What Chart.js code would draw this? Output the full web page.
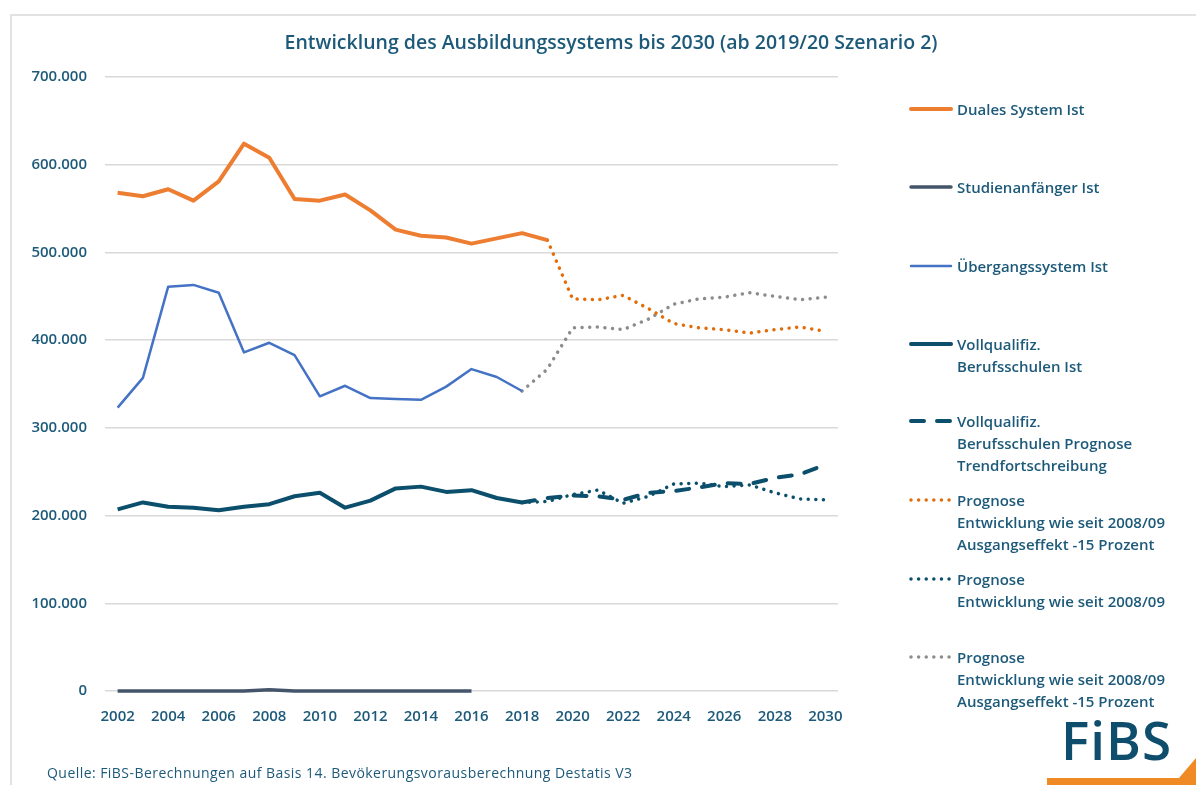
<!DOCTYPE html>
<html>
<head>
<meta charset="utf-8">
<script src="https://cdn.jsdelivr.net/npm/chart.js@4.4.1/dist/chart.umd.min.js"></script>
<style>
  html, body { margin: 0; padding: 0; background: #fff; }
  #wrap { position: relative; width: 1196px; height: 785px; overflow: hidden; font-family: 'Open Sans', sans-serif; color: #1d5a7a; }
  #frame { position: absolute; left: 10px; top: 14px; width: 1300px; height: 900px; border-left: 2px solid #e2e2e2; border-top: 2px solid #e2e2e2; }
  #chart { position: absolute; left: 0; top: 0; }
  #title { position: absolute; left: 611px; transform: translateX(-50%); top: 29px; white-space: nowrap; font-size: 19.5px; font-weight: 600; line-height: 26px; }
  #legend .item { position: absolute; left: 909px; }
  #legend svg { position: absolute; left: 0; top: 5px; }
  #legend .txt { position: absolute; left: 48px; top: 0; white-space: nowrap; font-size: 15px; font-weight: 600; line-height: 22px; }
  #source { position: absolute; left: 47px; top: 763px; font-size: 14px; letter-spacing: 0.45px; white-space: nowrap; }
  #logo { position: absolute; left: 1061px; top: 710px; font-size: 53px; font-weight: 600; line-height: 60px; color: #0e4d6c; letter-spacing: 1px; }
  #swoosh { position: absolute; left: 0; top: 0; width: 1196px; height: 785px; background: #f08a24;
            clip-path: polygon(1047px 778px, 1179px 778px, 1196px 758px, 1196px 785px, 1047px 785px); }
</style>
</head>
<body>
<div id="wrap">
  <div id="frame"></div>
  <canvas id="chart" width="1196" height="785"></canvas>
  <div id="title">Entwicklung des Ausbildungssystems bis 2030 (ab 2019/20 Szenario 2)</div>
  <div id="legend"></div>
  <div id="source">Quelle: FiBS-Berechnungen auf Basis 14. Bevökerungsvorausberechnung Destatis V3</div>
  <div id="logo">FiBS</div>
  <div id="swoosh"></div>
</div>
<script>
// years on the x axis
const years = ['2002','2003','2004','2005','2006','2007','2008','2009','2010','2011','2012','2013','2014','2015',
  '2016','2017','2018','2019','2020','2021','2022','2023','2024','2025','2026','2027','2028','2029','2030'];

const yTicks = [0, 100000, 200000, 300000, 400000, 500000, 600000, 700000];

// values (null = no value that year)
const dualesIst = [568000, 564000, 572000, 559000, 581000, 624000, 608000, 561000, 559000, 566000, 548000, 526000,
  519000, 517000, 510000, 516000, 522000, 514000, null, null, null, null, null, null, null, null, null, null, null];

const studienIst = [0, 0, 0, 0, 0, 0, 1500, 0, 0, 0, 0, 0, 0, 0, 0,
  null, null, null, null, null, null, null, null, null, null, null, null, null, null];

const uebergangIst = [323000, 357000, 461000, 463000, 454000, 386000, 397000, 383000, 336000, 348000, 334000, 333000,
  332000, 347000, 367000, 358000, 342000, null, null, null, null, null, null, null, null, null, null, null, null];

const vollIst = [207000, 215000, 210000, 209000, 206000, 210000, 213000, 222000, 226000, 209000, 217000, 231000,
  233000, 227000, 229000, 220000, 215000, null, null, null, null, null, null, null, null, null, null, null, null];

const vollTrend = [null, null, null, null, null, null, null, null, null, null, null, null, null, null, null, null,
  215000, 220000, 223000, 222000, 218000, 226000, 228000, 232000, 237000, 236000, 243000, 247000, 258000];

const dualesPrognose = [null, null, null, null, null, null, null, null, null, null, null, null, null, null, null, null, null,
  514000, 447000, 446000, 451000, 436000, 419000, 414000, 412000, 408000, 412000, 415000, 410000];

const vollPrognose = [null, null, null, null, null, null, null, null, null, null, null, null, null, null, null, null,
  215000, 216000, 224000, 229000, 214000, 222000, 236000, 237000, 233000, 235000, 226000, 219000, 218000];

const uebergangPrognose = [null, null, null, null, null, null, null, null, null, null, null, null, null, null, null, null,
  342000, 367000, 414000, 415000, 412000, 424000, 441000, 447000, 449000, 454000, 450000, 446000, 449000];

const textColor = '#1d5a7a';
const DOT = [0.01, 7.6];

const series = [
  { label: ['Duales System Ist'], data: dualesIst, color: '#ed7d31', width: 4, dash: [], top: 98 },
  { label: ['Studienanfänger Ist'], data: studienIst, color: '#44546a', width: 3.5, dash: [], top: 176 },
  { label: ['Übergangssystem Ist'], data: uebergangIst, color: '#4472c4', width: 2.5, dash: [], top: 255 },
  { label: ['Vollqualifiz.', 'Berufsschulen Ist'], data: vollIst, color: '#0b4f6c', width: 4, dash: [], top: 333 },
  { label: ['Vollqualifiz.', 'Berufsschulen Prognose', 'Trendfortschreibung'], data: vollTrend, color: '#0b4f6c', width: 4, dash: [13, 13], top: 410 },
  { label: ['Prognose', 'Entwicklung wie seit 2008/09', 'Ausgangseffekt -15 Prozent'], data: dualesPrognose, color: '#e36c09', width: 3.5, dash: DOT, top: 489 },
  { label: ['Prognose', 'Entwicklung wie seit 2008/09'], data: vollPrognose, color: '#0b4f6c', width: 3.5, dash: DOT, top: 568 },
  { label: ['Prognose', 'Entwicklung wie seit 2008/09', 'Ausgangseffekt -15 Prozent'], data: uebergangPrognose, color: '#8c8c8c', width: 3.5, dash: DOT, top: 646 },
];

function fmt(v) {
  return String(v).replace(/\B(?=(\d{3})+(?!\d))/g, '.');
}

const datasets = series.map((s) => ({
  label: s.label.join(' '),
  data: s.data,
  borderColor: s.color,
  backgroundColor: s.color,
  borderWidth: s.width,
  borderDash: s.dash,
  borderCapStyle: s.dash.length ? 'round' : 'butt',
  borderJoinStyle: 'round',
  pointRadius: 0,
  pointHoverRadius: 0,
  tension: 0,
  spanGaps: false,
  fill: false,
  clip: false,
}));

new Chart(document.getElementById('chart').getContext('2d'), {
  type: 'line',
  data: { labels: years, datasets: datasets },
  options: {
    responsive: false,
    devicePixelRatio: 1,
    animation: false,
    layout: { padding: { top: 77, right: 358, bottom: 54, left: 0 } },
    plugins: { legend: { display: false }, title: { display: false }, tooltip: { enabled: false } },
    scales: {
      x: {
        offset: true,
        grid: { display: false, drawTicks: false },
        border: { display: false },
        afterFit: (scale) => { scale.height = 40; },
        ticks: {
          autoSkip: false,
          maxRotation: 0,
          padding: 17,
          color: textColor,
          font: { family: 'Open Sans', size: 15, weight: '600' },
          callback: (val, i) => (i % 2 === 0 ? years[i] : ''),
        },
      },
      y: {
        min: 0,
        max: 700000,
        afterFit: (scale) => { scale.width = 105; },
        afterBuildTicks: (scale) => { scale.ticks = yTicks.map((v) => ({ value: v })); },
        grid: { color: '#d9d9d9', lineWidth: 1.5, drawTicks: false },
        border: { display: false },
        ticks: {
          padding: 18,
          color: textColor,
          font: { family: 'Open Sans', size: 15, weight: '600' },
          callback: (v) => fmt(v),
        },
      },
    },
  },
});

// legend on the right
const legend = document.getElementById('legend');
series.forEach((s) => {
  const item = document.createElement('div');
  item.className = 'item';
  item.style.top = s.top + 'px';
  const dash = s.dash.length ? `stroke-dasharray="${s.dash.join(' ')}"` : '';
  item.innerHTML =
    `<svg width="46" height="12"><line x1="2" y1="6" x2="42" y2="6" stroke="${s.color}" stroke-width="${s.width}" stroke-linecap="round" ${dash}/></svg>` +
    `<div class="txt">${s.label.join('<br>')}</div>`;
  legend.appendChild(item);
});
</script>
</body>
</html>
